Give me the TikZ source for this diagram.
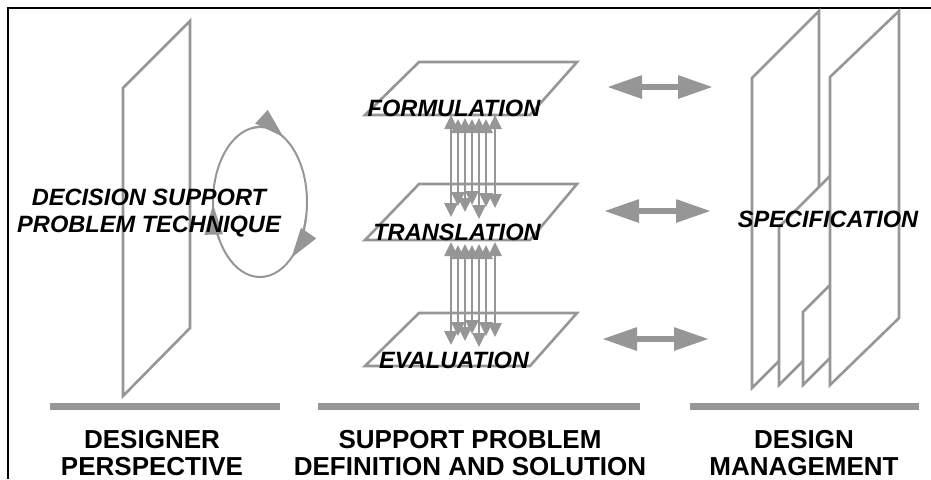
\documentclass[tikz,border=0pt]{standalone}
\usepackage{fontspec}
\setmainfont{Liberation Sans}
\usetikzlibrary{arrows.meta}
\definecolor{planegray}{RGB}{150,150,150}
\tikzset{
  plane/.style={draw=planegray, line width=1.3pt, fill=white},
  bar/.style={draw=planegray, line width=3.5pt},
  tag/.style={font=\fontsize{11.8}{13.5}\selectfont\bfseries\itshape, inner sep=0pt},
  heading/.style={font=\fontsize{13}{13.5}\selectfont\bfseries, align=center, inner sep=0pt},
  link/.style={draw=planegray, line width=1.3pt, {Triangle[length=7pt,width=6.5pt]}-{Triangle[length=7pt,width=6.5pt]}},
  twoway/.style={draw=planegray, line width=3pt, {Triangle[length=17.5pt,width=11pt]}-{Triangle[length=17.5pt,width=11pt]}},
  cyclehead/.tip={Triangle[length=15pt,width=9pt]}
}

\begin{document}
\begin{tikzpicture}[x=0.5pt, y=-0.5pt]
    \useasboundingbox (0,0) rectangle (931,479);
    \draw[line width=1pt] (8,479) -- (8,8) -- (931,8);

    \draw[plane] (123,88) -- (190,21) -- (190,328) -- (123,396) -- cycle;
    \draw[planegray, line width=1pt] (260,202) ellipse [x radius=47, y radius=75];
    \foreach \sa/\ea in {10/48, 150/178, 262/300}
        \draw[planegray, line width=1pt, -{cyclehead}] (260,202) ++(\sa:47 and 75)
            arc [start angle=\sa, end angle=\ea, x radius=47, y radius=75];
    \node[tag, align=center] (dspt) at (149,213) {DECISION SUPPORT\\PROBLEM TECHNIQUE};

    \foreach \ya/\yb in {62/115,184/240,313/366}
        \draw[plane] (365,\yb) -- (530,\yb) -- (577,\ya) -- (419,\ya) -- cycle;

    \foreach \x/\a/\b in {451/115/217, 458/119/206, 465/118/212, 472/119/205,
                          479/118/219, 486/119/207, 495/115/208}
        \draw[link] (\x,\a) -- (\x,\b);
    \foreach \x/\a/\b in {451/242/345, 458/245/336, 465/244/341, 472/245/334,
                          479/244/347, 486/245/336, 495/242/337}
        \draw[link] (\x,\a) -- (\x,\b);

    \node[tag, anchor=base] (form) at (454,116) {FORMULATION};
    \node[tag, anchor=base] (trans) at (457,240) {TRANSLATION};
    \node[tag, anchor=base] (eval) at (454,368) {EVALUATION};

    \foreach \i/\y/\xa/\xb in {1/87/607/713, 2/211/604/711, 3/339/602/709} {
        \coordinate (sl\i) at (\xa,\y);
        \coordinate (sr\i) at (\xb,\y);
        \draw[twoway] (sl\i) -- (sr\i);
    }

    \draw[plane] (752,388) -- (752,78) -- (819,11) -- (819,321) -- cycle;
    \draw[plane] (779,385) -- (779,227) -- (846,160) -- (846,318) -- cycle;
    \draw[plane] (803,385) -- (803,312) -- (870,245) -- (870,318) -- cycle;
    \draw[plane] (830,385) -- (830,77) -- (899,11) -- (899,318) -- cycle;
    \node[tag, anchor=base] (spec) at (828,227) {SPECIFICATION};

    \draw[bar] (50,406) -- (280,406);
    \draw[bar] (318,406) -- (640,406);
    \draw[bar] (690,406) -- (919,406);

    \node[heading] (persp) at (152,453) {DESIGNER\\PERSPECTIVE};
    \node[heading] (supp) at (470,453) {SUPPORT PROBLEM\\DEFINITION AND SOLUTION};
    \node[heading] (mgmt) at (804,453) {DESIGN\\MANAGEMENT};
\end{tikzpicture}
\end{document}
